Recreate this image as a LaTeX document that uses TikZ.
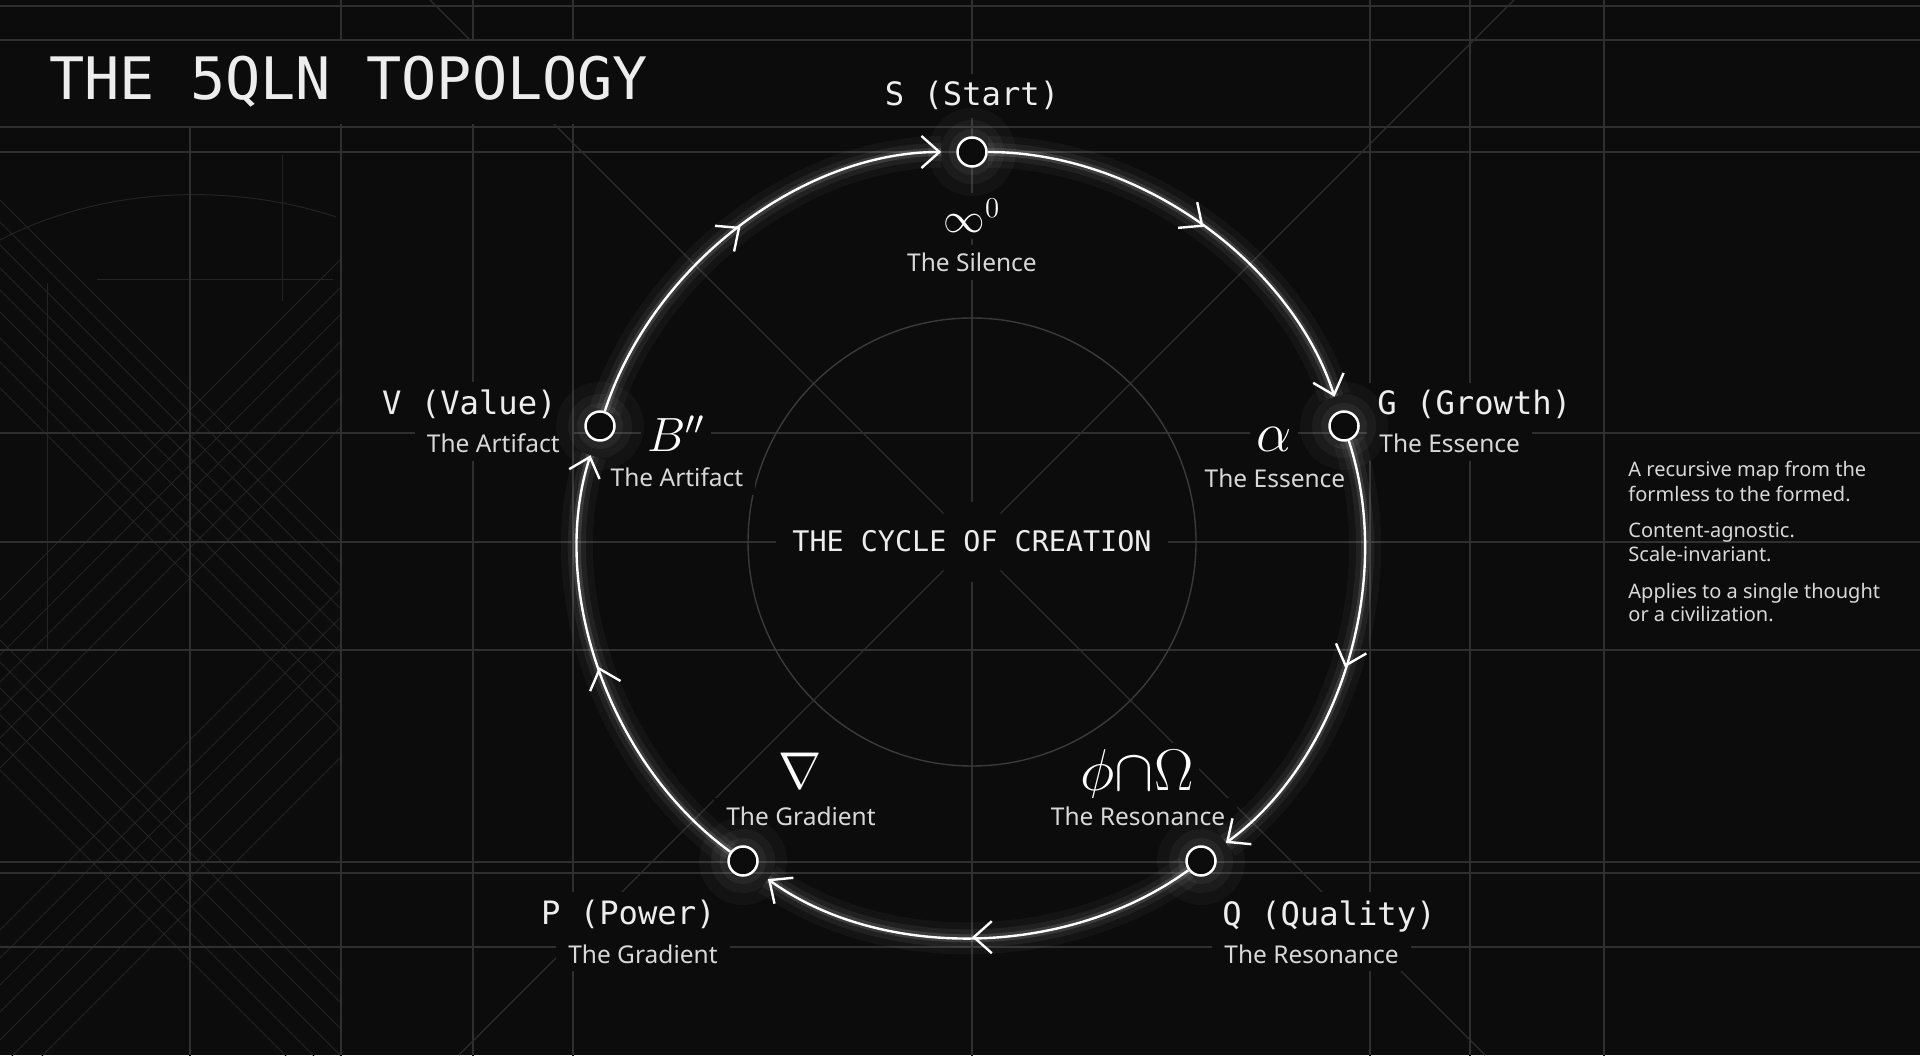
\documentclass[tikz,border=0pt]{standalone}
\usepackage{graphicx}
\usepackage{fontspec}
\setsansfont{Noto Sans}
\setmonofont{DejaVu Sans Mono}
\usetikzlibrary{arrows.meta,decorations.markings}
\definecolor{bg}{HTML}{0C0C0C}
\definecolor{gridc}{HTML}{2F2F2F}
\definecolor{latc}{HTML}{232323}
\definecolor{diagc}{HTML}{2C2C2C}
\definecolor{ringc}{HTML}{3A3A3A}
\definecolor{txt}{HTML}{EDEDED}
\definecolor{subt}{HTML}{D8D8D8}
\newcommand{\myfs}[1]{\fontsize{#1pt}{#1pt}\selectfont}
\newcommand{\bigsym}[2]{\scalebox{#1}{$#2$}}
\begin{document}
\begin{tikzpicture}[x=0.5pt,y=0.5pt,
  grid/.style={draw=gridc,line width=0.7pt},
  vgrid/.style={draw=gridc,line width=0.6pt},
  lat/.style={draw=latc,line width=0.5pt},
  lbl/.style={fill=bg,inner xsep=6pt,inner ysep=4pt},
  monolbl/.style={lbl,text=txt,font=\ttfamily\myfs{16.1}},
  sublbl/.style={lbl,text=subt,font=\sffamily\myfs{12.25}},
  symb/.style={text=white,fill=bg,inner sep=3pt,anchor=base,font=\myfs{20.74}},
  side/.style={inner sep=0pt,anchor=base west,text=subt,font=\sffamily\myfs{10}},
  pt/.style={circle,draw=white,line width=1.25pt,fill=bg,minimum size=14.5pt,inner sep=0pt},
  flowtip/.tip={Straight Barb[length=9pt,width=16pt]},
  flow/.style={draw=white,line width=1.2pt,arrows={-flowtip},shorten >=7.5pt,looseness=0.9,
    preaction={draw=white,draw opacity=0.035,line width=16pt,arrows=-},
    preaction={draw=white,draw opacity=0.06,line width=9pt,arrows=-},
    preaction={draw=white,draw opacity=0.12,line width=4pt,arrows=-},
    decoration={markings,mark=at position 0.5 with {\arrow{flowtip}}},
    postaction=decorate},
  halo/.style={fill=white}
]
\fill[bg] (0,0) rectangle (1920,1055);
\useasboundingbox (0,0) rectangle (1920,1055);

% left sketch panel
\begin{scope}
  \clip (0,-30) rectangle (341,928);
  \foreach \c in {200,222,245,268,290,312,338,362,388,640,662,688,715,742,770}
    \draw[lat] (-30,1085-\c) -- (400,655-\c);
  \foreach \s in {600,628,655,682,710,738,768,930,958,985,1012,1040,1068,1098}
    \draw[lat] (-30,1025-\s) -- (400,1455-\s);
  \draw[lat] (0,815) .. controls (110,872) and (240,870) .. (336,838);
  \draw[lat] (47,772) -- (47,406);
  \draw[lat] (282,900) -- (282,754);
  \draw[lat] (97,775) -- (333,775);
\end{scope}

% grid
\foreach \Y in {1049,1015,928,903,622,513,405,193,182,108}
  \draw[grid] (0,\Y) -- (1920,\Y);
\foreach \X in {341,473,573,972,1370,1470,1604}
  \draw[vgrid] (\X,-10) -- (\X,1065);
\draw[vgrid] (190,-10) -- (190,928);

% diagonals and inner ring
\draw[draw=diagc,line width=0.6pt] (430,1055) -- (1485,0);
\draw[draw=diagc,line width=0.6pt] (459,0) -- (1514,1055);
\draw[draw=ringc,line width=0.7pt] (972,513) circle[radius=224];
\fill[bg] (972,513) circle[radius=40];

% titles
\node[lbl,anchor=base west,text=txt,font=\ttfamily\myfs{29.25},inner xsep=8pt,inner ysep=8pt] (title) at (33,955) {THE 5QLN TOPOLOGY};
\node[lbl,anchor=base,text=txt,font=\ttfamily\myfs{14.2},inner xsep=8pt,inner ysep=8pt] (ctitle) at (972,503) {THE CYCLE OF CREATION};

% S
\node[monolbl,anchor=base] (Sname) at (972,949) {S (Start)};
\node[sublbl,anchor=base] (Sdesc) at (972,783) {The Silence};
\node[symb] (Ssym) at (972,822) {\bigsym{1.0}{\infty^0}};
% G
\node[monolbl,anchor=base west] (Gname) at (1365,640) {G (Growth)};
\node[sublbl,anchor=base west] (Gdesc) at (1367,602) {The Essence};
\node[symb] (Gsym) at (1274,603) {\bigsym{1.35}{\alpha}};
\node[sublbl,anchor=base] (Gdesc2) at (1275,567) {The Essence};
% V
\node[monolbl,anchor=base east] (Vname) at (569,640) {V (Value)};
\node[sublbl,anchor=base east] (Vdesc) at (572,602) {The Artifact};
\node[symb] (Vsym) at (676,603) {\bigsym{1.16}{B''}};
\node[sublbl,anchor=base] (Vdesc2) at (677,568) {The Artifact};
% P
\node[monolbl,anchor=base east] (Pname) at (728,131) {P (Power)};
\node[sublbl,anchor=base east] (Pdesc) at (730,92) {The Gradient};
\node[symb] (Psym) at (800,267) {\bigsym{1.25}{\nabla}};
\node[sublbl,anchor=base] (Pdesc2) at (801,230) {The Gradient};
% Q
\node[monolbl,anchor=base west] (Qname) at (1210,130) {Q (Quality)};
\node[sublbl,anchor=base west] (Qdesc) at (1212,92) {The Resonance};
\node[symb] (Qsym) at (1137,265) {\bigsym{1.42}{\phi{\cap}\Omega}};
\node[sublbl,anchor=base] (Qdesc2) at (1138,230) {The Resonance};

% side notes
\node[side] (r1) at (1628,578) {A recursive map from the};
\node[side] (r2) at (1628,553) {formless to the formed.};
\node[side] (r3) at (1628,517) {Content-agnostic.};
\node[side] (r4) at (1628,493) {Scale-invariant.};
\node[side] (r5) at (1628,456) {Applies to a single thought};
\node[side] (r6) at (1628,433) {or a civilization.};

% nodes with halos
\coordinate (cS) at (972,903);
\coordinate (cG) at (1344,629);
\coordinate (cQ) at (1201,194);
\coordinate (cP) at (743,194);
\coordinate (cV) at (600,629);
\foreach \c in {cS,cG,cQ,cP,cV} {
  \fill[halo,fill opacity=0.03] (\c) circle[radius=44];
  \fill[halo,fill opacity=0.04] (\c) circle[radius=32];
  \fill[halo,fill opacity=0.05] (\c) circle[radius=23];
}
\node[pt] (S) at (cS) {};
\node[pt] (G) at (cG) {};
\node[pt] (Q) at (cQ) {};
\node[pt] (P) at (cP) {};
\node[pt] (V) at (cV) {};

% cycle
\draw[flow] (S) to[out=0,in=108] (G);
\draw[flow] (G) to[out=-72,in=36] (Q);
\draw[flow] (Q) to[out=-144,in=-36] (P);
\draw[flow] (P) to[out=144,in=-108] (V);
\draw[flow] (V) to[out=72,in=180] (S);
\end{tikzpicture}
\end{document}
